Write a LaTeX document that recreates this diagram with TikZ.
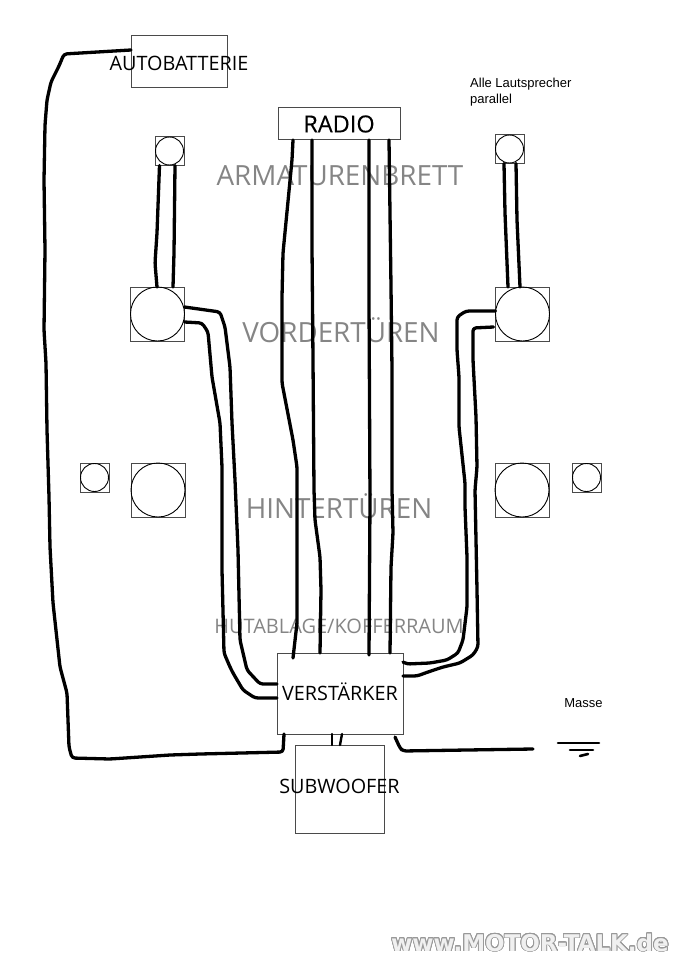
\documentclass[tikz,border=0pt]{standalone}
\usepackage{fontspec}
\usepackage[copies]{contour}
\setmainfont{Open Sans}
\newfontfamily\notefont{Liberation Sans}
\newfontfamily\markfont{DejaVu Sans}
\usetikzlibrary{positioning}
\definecolor{boxgray}{HTML}{4A4A4A}
\definecolor{zonegray}{HTML}{858585}
\contourlength{.8pt}
\contournumber{24}

\tikzset{
  unit/.style={draw=boxgray,line width=1pt,inner sep=0pt,outer sep=0pt},
  bigspk/.style={unit,minimum width=54pt,minimum height=54pt},
  smallspk/.style={unit,minimum width=29pt,minimum height=29pt},
  bigcone/.style={draw,circle,line width=.9pt,inner sep=0pt,minimum size=54pt},
  smallcone/.style={draw,circle,line width=.9pt,inner sep=0pt,minimum size=28pt},
  wire/.style={line width=3.3pt,line cap=round,line join=round,rounded corners=3pt},
  zone/.style={text=zonegray,font=\fontsize{27.8}{32}\selectfont},
  caption/.style={font=\fontsize{19.8}{24}\selectfont},
  note/.style={font=\notefont\fontsize{13}{16}\selectfont,inner sep=0pt}
}

\begin{document}
\begin{tikzpicture}[x=1pt,y=-1pt]
  \useasboundingbox (0,0) rectangle (679,960);

  \node[zone] (dash) at (340,175.5) {ARMATURENBRETT};
  \node[zone] (front) at (341,330.5) {VORDERTÜREN};
  \node[zone] (rear) at (339,506) {HINTERTÜREN};
  \node[zone,font=\fontsize{20}{24}\selectfont] (shelf) at (339,626) {HUTABLAGE/KOFFERRAUM};

  \node[unit,minimum width=96pt,minimum height=52pt,label={[caption,yshift=-1pt]center:AUTOBATTERIE}] (batt) at (179,62) {};
  \node[unit,minimum width=122pt,minimum height=32pt] (radio) at (339,124) {\fontsize{23.5}{26}\selectfont\addfontfeature{FakeBold=0.2}RADIO};
  \node[unit,minimum width=126pt,minimum height=81pt,label={[caption,yshift=1.5pt]center:VERSTÄRKER}] (amp) at (340,693.5) {};
  \node[unit,minimum width=89pt,minimum height=88pt,label={[caption,yshift=3pt]center:SUBWOOFER}] (sub) at (339.5,789) {};

  \foreach \name/\x/\y in {fl/157.5/314,fr/522.5/314,rl/158/490,rr/522/490}
    \node[bigspk] (\name) at (\x,\y) {} node[bigcone] at (\x,\y) {};
  \foreach \name/\x/\y in {dl/169.5/151,dr/509.5/149,tl/94.5/477.5,tr/586.5/477.5}
    \node[smallspk] (\name) at (\x,\y) {} node[smallcone] at (\x,\y) {};

  \node[note,align=left,anchor=west] (hint) at (470,92) {Alle Lautsprecher\\parallel};
  \node[note] (earth) at (583.5,703) {Masse};
  \coordinate (gnd) at (533,749);

  % Batterie
  \draw[wire] ([yshift=12pt]batt.west) -- (64,54) -- (59,66) -- (51,82) -- (47,100) -- (45,125) -- (44,180)
    -- (45,250) -- (44,330) -- (46,363) -- (47,430) -- (49,497) -- (50,547) -- (53,603) -- (60,667) -- (67,693)
    -- (69,747) -- (72,758) -- (110,759) -- (170,755) -- (200,754) -- (283,752) -- ([xshift=-56pt]amp.south);

  % Radio
  \draw[wire] ([xshift=-46pt]radio.south) -- (292,160) -- (283,253) -- (282,297) -- (282,383) -- (293,440)
    -- (297,467) -- (297,567) -- (297,623) -- ([xshift=-47pt,yshift=-5pt]amp.north);
  \draw[wire] ([xshift=-27pt]radio.south) -- (312,247) -- (313,360) -- (314,490) -- (315,520) -- (320,557)
    -- (321,590) -- ([xshift=-20pt]amp.north);
  \draw[wire] ([xshift=30pt]radio.south) -- (369,300) -- (370,500) -- ([xshift=29pt,yshift=-2pt]amp.north);
  \draw[wire] ([xshift=50pt]radio.south) -- (391,287) -- (392,370) -- (392,490) -- (393,533) -- (391,567)
    -- ([xshift=50pt]amp.north);

  % Mittel- und Hochtoener
  \draw[wire] ([xshift=-10pt]dl.south) -- (157,233) -- (155,263) -- ([xshift=-.5pt]fl.north);
  \draw[wire] ([xshift=5.5pt]dl.south) -- (174,253) -- ([xshift=15.5pt]fl.north);
  \draw[wire] ([xshift=-5.5pt]dr.south) -- (505,213) -- ([xshift=-14.5pt]fr.north);
  \draw[wire] ([xshift=6.5pt]dr.south) -- (517,220) -- ([xshift=-2.5pt]fr.north);

  % Tueren links
  \draw[wire] ([yshift=7pt]fl.east) -- (220,312) -- (225,327) -- (230,367) -- (232,423) -- (235,480) -- (238,550)
    -- (240,640) -- (247,670) -- (260,684) -- ([yshift=9.5pt]amp.west);
  \draw[wire] ([yshift=-8pt]fl.east) -- (202,323) -- (208,332) -- (212,377) -- (220,423) -- (222,467) -- (222,570)
    -- (224,653) -- (230,667) -- (233,673) -- (243,690) -- (255,698) -- ([yshift=-4.5pt]amp.west);

  % Tueren rechts
  \draw[wire] ([yshift=3pt]fr.west) -- (466,311) -- (457,317) -- (457,350) -- (459,377) -- (459,427) -- (465,483)
    -- (465,507) -- (467,557) -- (467,607) -- (463,640) -- (458,653) -- (447,660) -- (430,663) -- (407,664)
    -- ([yshift=31.5pt]amp.east);
  \draw[wire] ([xshift=-2pt,yshift=-13pt]fr.west) -- (473,328) -- (473,360) -- (476,417) -- (477,467) -- (475,490) -- (477,590)
    -- (478,647) -- (473,655) -- (460,663) -- (443,667) -- (428,672) -- (417,676) -- ([yshift=17.5pt]amp.east);

  % Subwoofer
  \draw[wire,line width=2.4pt] ([xshift=-8pt]amp.south) -- ([xshift=-7.5pt]sub.north);
  \draw[wire,line width=2.4pt] ([xshift=2pt]amp.south) -- ([xshift=.5pt]sub.north);

  % Masse
  \draw[wire] ([xshift=55pt,yshift=-3pt]amp.south) -- (400,748) -- (403,751) -- (467,750) -- (gnd);
  \coordinate (g1) at (558,743);
  \draw[wire,line width=2.6pt] (g1) -- ++(41,0);
  \draw[wire,line width=2.6pt] ([shift={(12,7)}]g1) -- ++(23,0);
  \draw[wire,line width=2.6pt] ([shift={(22,13)}]g1) -- ++(8,-2);

  \node[font=\markfont\bfseries\fontsize{23}{26}\selectfont,text=gray!12] (brand) at (530,943) {\contour{gray!80}{www.MOTOR-TALK.de}};
\end{tikzpicture}
\end{document}
